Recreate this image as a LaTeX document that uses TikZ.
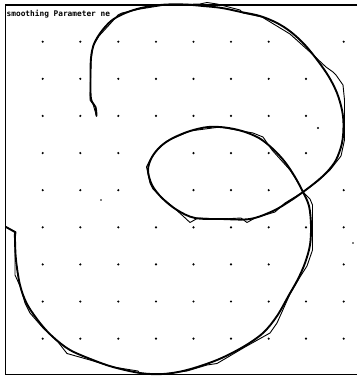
\documentclass[tikz,border=0pt]{standalone}
\usepackage{fontspec}
\newfontfamily\plotfont{DejaVu Sans Mono}
\begin{document}
\begin{tikzpicture}[x=1pt,y=-1pt,
  frameline/.style={line width=1.5pt, black},
  mainline/.style={line width=1.9pt, line join=round, line cap=round},
  jagline/.style={line width=0.9pt, line join=round},
  griddot/.style={fill=black},
  straydot/.style={fill=black}]
\useasboundingbox (0,0) rectangle (357,378);
% frame
\draw[frameline] (357,5) -- (5.5,5) -- (5.5,374.5) -- (357,374.5);
% grid of dots
\foreach \x/\rows in {42.7/{0,1,2,3,4,5,6,7,8}, 80.3/{0,1,2,3,4,5,6,7,8},
    118.3/{0,1,2,3,4,5,6,7,8}, 156/{0,1,2,5,6,7,8}, 193.5/{0,1,2,3,4,5,6,7,8},
    231/{0,1,2,3,4,5,6,7,8}, 268.7/{0,1,2,3,4,5,6,7,8}, 306/{1,2,3,5,7,8},
    343.7/{0,4,5,6,7,8}}{
  \foreach \r in \rows {
    \fill[griddot] (\x,41.7+\r*37.12) circle (1.2pt);
  }
}
% stray dots
\fill[straydot] (101,200) circle (0.9pt);
\fill[straydot] (318,128) circle (1.1pt);
\fill[straydot] (353,243) circle (0.9pt);
% title
\node[anchor=base west, inner sep=0pt, font=\plotfont\bfseries\fontsize{7.8}{8}\selectfont] (title) at (6.5,16) {smoothing Parameter ne};
% main smoothed curve
\draw[mainline] plot[smooth, tension=0.55] coordinates {
 (96.5,116) (95.5,107) (91,99) (90.5,80) (91,58) (94,44) (101,32) (111,21) (123,14)
 (137,9) (152,6) (167,4.5) (185,4.5) (203,6) (222,8) (241,12) (260,16) (277,23)
 (291,32) (305,45) (318,61) (329,77) (337,93) (342,110) (343.5,125) (342,143)
 (336,160) (327,172) (316,182) (303,192) (290,201) (273,211) (250,219) (222,219)
 (195,218) (177,210) (162,198) (152,185) (148,170) (152,157) (161,146) (173,138)
 (190,131) (208,127) (225,127.5) (242,131) (259,138) (273,149) (285,162) (295,177)
 (303,192) (309,206) (311,225) (310,245) (305,263) (298,279) (289,295) (277,316)
 (263,333) (243,347) (217,360) (187,370) (163,374) (140,373) (113,367) (93,360)
 (70,350) (53,337) (40,323) (27,304) (20,285) (16,260) (15,240) (15,232)}
 -- (6,227);
% jagged raw polyline
\draw[jagline] (96.5,116) -- (93,104) -- (90,100) -- (91,60) -- (93,46) -- (99,36)
 -- (110,24) -- (118,15) -- (122,13) -- (140,9) -- (165,5) -- (200,4) -- (207,2.5)
 -- (217,4) -- (240,10) -- (243,13) -- (262,17) -- (290,34) -- (310,52) -- (326,67)
 -- (333,72) -- (336,75) -- (343,85) -- (344.5,100) -- (344.5,140) -- (341,156)
 -- (330,170) -- (318,181) -- (303,192) -- (285,203) -- (275,212) -- (255,218)
 -- (247,222.5) -- (241,218) -- (223,219) -- (198,218) -- (190,222.5) -- (183,216)
 -- (173,207) -- (160,196) -- (153,189) -- (150,183) -- (146.5,167) -- (150,160)
 -- (157,150) -- (167,141) -- (190,131) -- (220,127) -- (253,133) -- (263,137)
 -- (272,150) -- (290,170) -- (296,179) -- (303,192) -- (310,199) -- (312.5,205)
 -- (312.5,250) -- (307,266) -- (300,277) -- (290,294) -- (277,323) -- (270,333)
 -- (245,347) -- (217,363.5) -- (207,365) -- (187,371) -- (163,374) -- (140,374)
 -- (138,371) -- (113,367) -- (90,360) -- (67,353.5) -- (58,342) -- (43,328)
 -- (30,313) -- (25,303) -- (20,286) -- (15,275) -- (15,240) -- (16,232) -- (6,227);
\end{tikzpicture}
\end{document}
